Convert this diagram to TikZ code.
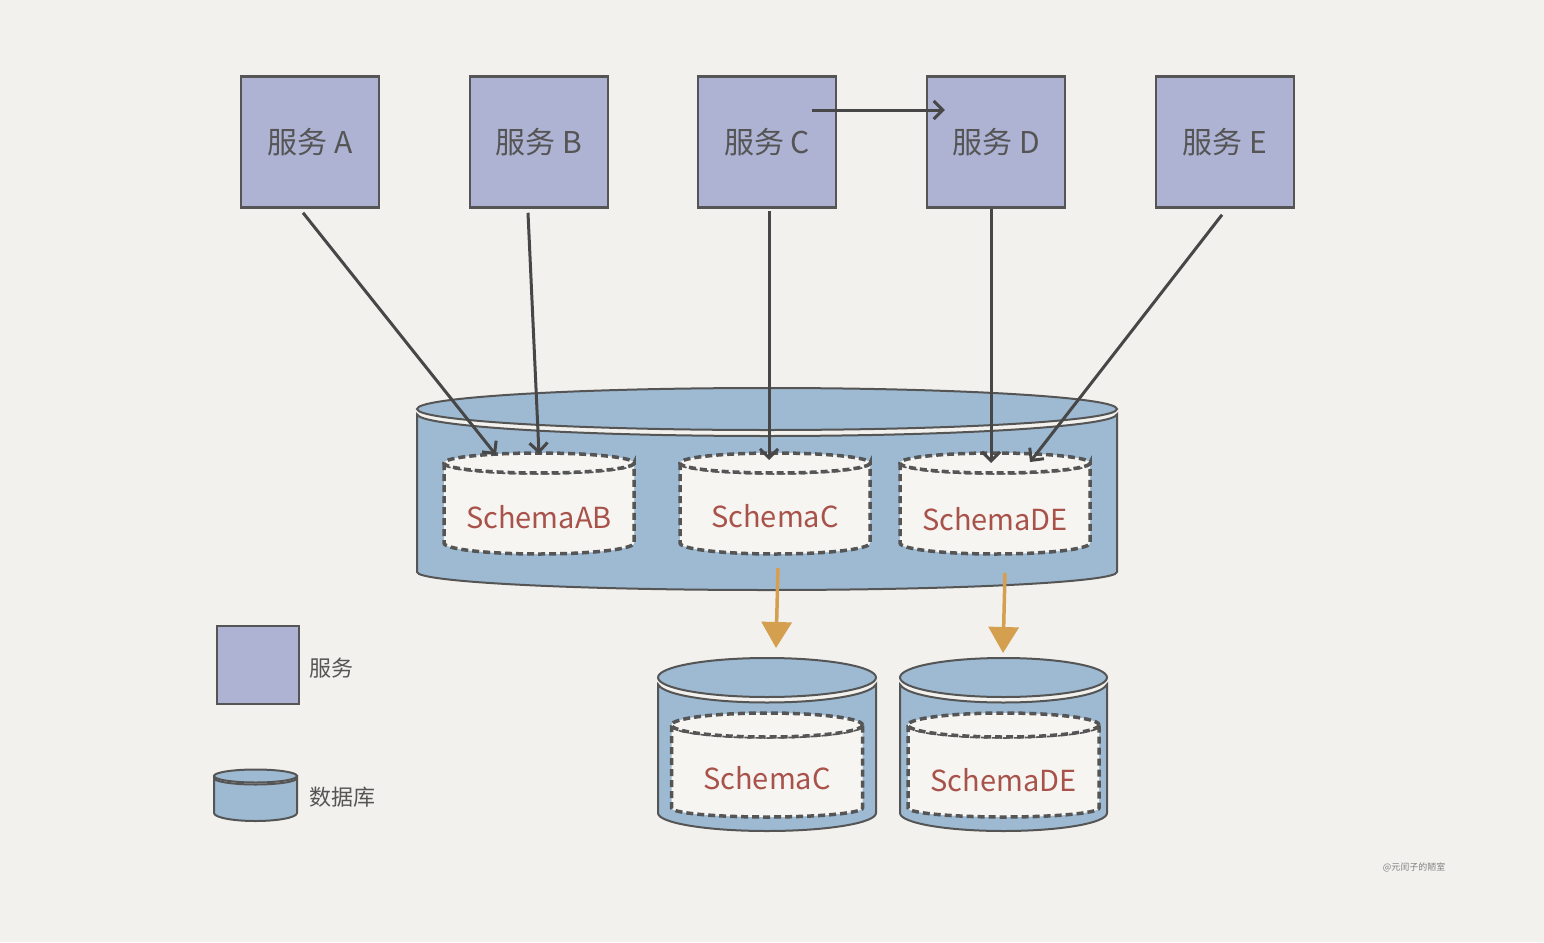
\documentclass[tikz,border=0pt]{standalone}
\usepackage{fontspec}
\setmainfont{Noto Sans CJK SC}
\usetikzlibrary{arrows.meta}
\definecolor{paper}{HTML}{F2F1EE}
\definecolor{svcfill}{HTML}{AEB3D4}
\definecolor{dbfill}{HTML}{9DBAD2}
\definecolor{schfill}{HTML}{F6F5F2}
\definecolor{inkgray}{HTML}{555555}
\definecolor{arrowgray}{HTML}{474747}
\definecolor{schtext}{HTML}{A8524A}
\definecolor{ochre}{HTML}{D4A050}
\begin{document}
\begin{tikzpicture}[x=1pt, y=-1pt,
  svc/.style={draw=inkgray, line width=2.5pt, fill=svcfill, minimum width=138pt,
    minimum height=131pt, text=inkgray, font=\fontsize{30}{36}\selectfont},
  db/.style={draw=inkgray, line width=2pt, fill=dbfill},
  sch/.style={draw=inkgray, line width=3.5pt, dash pattern=on 7pt off 4pt, fill=schfill},
  schlabel/.style={text=schtext, font=\fontsize{29}{34}\selectfont},
  legendlabel/.style={text=inkgray, font=\fontsize{22}{26}\selectfont, anchor=west},
  usearrow/.style={draw=arrowgray, line width=3pt, -{Straight Barb[length=9pt,width=18pt]}},
  copyarrow/.style={draw=ochre, line width=3.5pt, -{Triangle[length=26pt,width=30pt]}},
]
  \fill[paper] (0,0) rectangle (1544,942);

  % services
  \foreach \name/\x in {A/310,B/539,C/767,D/996,E/1225}
    \node[svc] (svc\name) at (\x,142) {服务 \name};

  % shared database
  \filldraw[db] (417,414) -- (417,572) arc[start angle=180, end angle=0, x radius=350, y radius=18]
    -- (1117,414) arc[start angle=0, end angle=180, x radius=350, y radius=22] -- cycle;
  \draw[paper, line width=5pt] (767,409) ellipse [x radius=350, y radius=21];
  \filldraw[db] (767,409) ellipse [x radius=350, y radius=21];

  \foreach \n/\cx/\ty in {AB/539/517,C/775/516,DE/995/519} {
    \filldraw[sch] ({\cx-95},463) -- ({\cx-95},543) arc[start angle=180, end angle=0, x radius=95, y radius=11]
      -- ({\cx+95},463) arc[start angle=0, end angle=180, x radius=95, y radius=10] -- cycle;
    \filldraw[sch] (\cx,463) ellipse [x radius=95, y radius=10];
    \node[schlabel] (sch\n) at (\cx,\ty) {Schema\n};
  }

  % split databases
  \foreach \n/\cx/\rx/\ty in {C/767/109/778,DE/1003.5/103.5/780} {
    \filldraw[db] ({\cx-\rx},683) -- ({\cx-\rx},813) arc[start angle=180, end angle=0, x radius=\rx, y radius=18]
      -- ({\cx+\rx},683) arc[start angle=0, end angle=180, x radius=\rx, y radius=19.5] -- cycle;
    \draw[paper, line width=5pt] (\cx,677.5) ellipse [x radius=\rx, y radius=19.5];
    \filldraw[db] (\cx,677.5) ellipse [x radius=\rx, y radius=19.5];
    \filldraw[sch] ({\cx-95.5},725) -- ({\cx-95.5},808) arc[start angle=180, end angle=0, x radius=95.5, y radius=9]
      -- ({\cx+95.5},725) arc[start angle=0, end angle=180, x radius=95.5, y radius=12] -- cycle;
    \filldraw[sch] (\cx,725) ellipse [x radius=95.5, y radius=12];
    \node[schlabel] (split\n) at (\cx,\ty) {Schema\n};
  }

  % access arrows
  \coordinate (tipA) at (496,455);
  \coordinate (tipB) at (539,454);
  \coordinate (tipC) at (769,460);
  \coordinate (tipD) at (991,463);
  \coordinate (tipE) at (1030,462);
  \draw[usearrow] ([xshift=-7pt,yshift=-4pt]svcA.south) -- (tipA);
  \draw[usearrow] ([xshift=-11pt,yshift=-4pt]svcB.south) -- (tipB);
  \draw[usearrow] ([xshift=2pt,yshift=-2pt]svcC.south) -- (tipC);
  \draw[usearrow] ([xshift=-5pt]svcD.south) -- (tipD);
  \draw[usearrow] ([xshift=-3pt,yshift=-6pt]svcE.south) -- (tipE);
  \draw[usearrow] ([xshift=-25pt,yshift=32pt]svcC.east) -- ([xshift=19pt,yshift=32pt]svcD.west);

  % migration arrows
  \coordinate (outC) at (778,568);
  \coordinate (inC) at (776,648);
  \coordinate (outDE) at (1005,573);
  \coordinate (inDE) at (1003,653);
  \draw[copyarrow] (outC) -- (inC);
  \draw[copyarrow] (outDE) -- (inDE);

  % legend
  \node[svc, line width=2pt, minimum width=82pt, minimum height=78pt] (lgBox) at (258,665) {};
  \node[legendlabel] (lgSvc) at (306,668) {服务};
  \filldraw[db] (214,778) -- (214,813) arc[start angle=180, end angle=0, x radius=41.5, y radius=8]
    -- (297,778) arc[start angle=0, end angle=180, x radius=41.5, y radius=6.5] -- cycle;
  \filldraw[db] (255.5,776) ellipse [x radius=41.5, y radius=6.5];
  \node[legendlabel] (lgDb) at (306,797) {数据库};

  \node[text=gray, font=\fontsize{9}{10}\selectfont] (mark) at (1414,867) {@元闰子的陋室};
\end{tikzpicture}
\end{document}
